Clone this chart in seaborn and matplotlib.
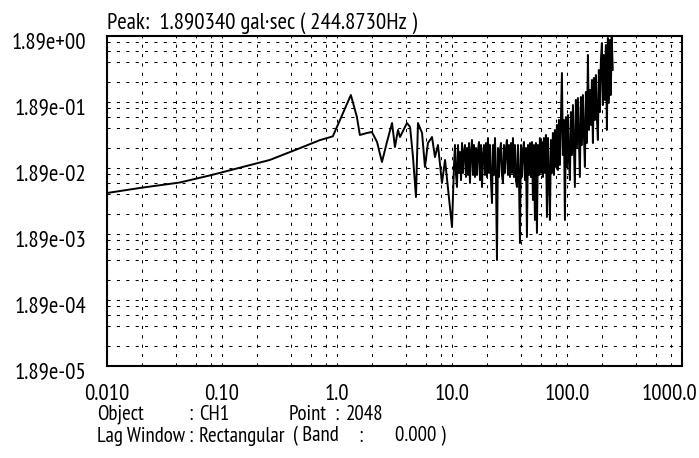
import matplotlib
matplotlib.use("Agg")
import matplotlib.pyplot as plt
import pandas as pd
import seaborn as sns
from matplotlib.ticker import FixedLocator, NullFormatter
from matplotlib.transforms import ScaledTranslation

# Smooth low-frequency part and the sparse 1-10 Hz part of the spectrum
freq_low = [0.010, 0.020, 0.043, 0.080, 0.14, 0.26, 0.48, 0.71, 0.92,
            1.32, 1.49, 1.58, 1.82, 2.01, 2.23, 2.46, 2.72, 3.01, 3.19,
            3.39, 3.53, 4.06, 4.32, 4.58, 4.86, 5.06, 5.49, 5.82, 6.18,
            6.70, 7.11, 7.55, 8.18, 8.70, 10.0]
amp_low = [0.0079, 0.0095, 0.0114, 0.0147, 0.0189, 0.025, 0.038, 0.050, 0.057,
           0.241, 0.112, 0.0598, 0.0641, 0.0664, 0.0468, 0.0233, 0.0468, 0.0908, 0.0393,
           0.0712, 0.0557, 0.0908, 0.0790, 0.0277, 0.00687, 0.0908, 0.0641, 0.0196, 0.0452,
           0.0557, 0.0277, 0.0422, 0.0112, 0.0250, 0.00241]

# Dense high-frequency band (10-250 Hz)
freq_band = [
    10.41, 10.62, 10.84, 11.05, 11.28, 11.51, 11.74, 11.98, 12.22, 12.46,
    12.71, 12.97, 13.23, 13.50, 13.77, 14.05, 14.33, 14.62, 14.92, 15.22,
    15.53, 15.84, 16.17, 16.49, 16.83, 17.17, 17.51, 17.87, 18.23, 18.59,
    18.97, 19.35, 19.75, 20.14, 20.55, 20.97, 21.39, 21.82, 22.26, 22.71,
    23.17, 23.64, 24.12, 24.60, 25.10, 25.61, 26.13, 26.65, 27.19, 27.74,
    28.30, 28.87, 29.46, 30.05, 30.66, 31.28, 31.91, 32.56, 33.21, 33.88,
    34.57, 35.27, 35.98, 36.71, 37.45, 38.21, 38.98, 39.77, 40.57, 41.39,
    42.23, 43.08, 43.96, 44.84, 45.75, 46.68, 47.62, 48.58, 49.56, 50.56,
    51.58, 52.62, 53.69, 54.77, 55.88, 57.01, 58.16, 59.34, 60.53, 61.76,
    63.01, 64.28, 65.58, 66.91, 68.26, 69.64, 71.05, 72.49, 73.95, 75.44,
    76.96, 78.52, 80.11, 81.72, 83.38, 85.06, 86.78, 88.53, 90.32, 92.14,
    94.01, 95.91, 97.85, 99.83, 101.9, 103.9, 106.0, 108.1, 110.3, 112.6,
    114.8, 117.1, 119.5, 121.9, 124.4, 126.9, 129.4, 132.1, 134.7, 137.5,
    140.3, 143.1, 146.0, 149.0, 152.0, 155.1, 158.2, 161.4, 164.7, 168.0,
    171.3, 174.8, 178.3, 181.9, 185.6, 189.3, 193.2, 197.1, 201.1, 205.1,
    209.3, 213.5, 217.9, 222.3, 226.8, 231.3, 236.0, 240.3, 244.873, 250.0,
]
amp_band = [
    0.0210, 0.0422, 0.0148, 0.00974, 0.0422, 0.0159, 0.0330, 0.0124, 0.0452, 0.0159,
    0.0330, 0.0422, 0.0138, 0.0380, 0.0148, 0.0452, 0.0112, 0.0330, 0.0502, 0.0148,
    0.0422, 0.0138, 0.0380, 0.0148, 0.0354, 0.0468, 0.0124, 0.0422, 0.00974, 0.0297,
    0.0422, 0.0148, 0.0452, 0.0138, 0.0538, 0.0159, 0.0422, 0.0124, 0.00557, 0.0422,
    0.0148, 0.0538, 0.0138, 0.000763, 0.0380, 0.0138, 0.0354, 0.0452, 0.0148, 0.0112,
    0.0422, 0.0159, 0.0380, 0.0502, 0.0148, 0.0422, 0.0138, 0.0452, 0.0159, 0.0538,
    0.0138, 0.0422, 0.0124, 0.00974, 0.0422, 0.0148, 0.00138, 0.0422, 0.0138, 0.0354,
    0.0468, 0.0124, 0.0380, 0.00170, 0.0422, 0.0148, 0.0452, 0.0138, 0.0468, 0.00619,
    0.0422, 0.00308, 0.0452, 0.00196, 0.0422, 0.0148, 0.0538, 0.0159, 0.0468, 0.0138,
    0.0538, 0.0159, 0.0598, 0.00342, 0.0538, 0.0148, 0.00308, 0.0502, 0.0159, 0.0641,
    0.0148, 0.0712, 0.0196, 0.0847, 0.0176, 0.101, 0.0210, 0.108, 0.520, 0.0297,
    0.101, 0.00308, 0.112, 0.0196, 0.120, 0.0250, 0.0124, 0.133, 0.0297, 0.170,
    0.0422, 0.00974, 0.203, 0.0380, 0.217, 0.0502, 0.0138, 0.225, 0.0422, 0.241,
    0.0598, 0.0196, 0.268, 0.0452, 0.974, 0.0712, 0.287, 0.0847, 0.407, 0.0452,
    0.437, 0.101, 0.485, 0.112, 0.0502, 0.577, 0.133, 0.818, 1.481, 0.170,
    0.974, 0.203, 1.381, 0.0712, 1.763, 0.183, 1.644, 0.241, 1.89034, 0.577,
]

x_ticks = [0.01, 0.1, 1.0, 10.0, 100.0, 1000.0]
x_tick_labels = ["0.010", "0.10", "1.0", "10.0", "100.0", "1000.0"]
y_ticks = [1.89e-5, 1.89e-4, 1.89e-3, 1.89e-2, 1.89e-1, 1.89]
y_tick_labels = ["1.89e-05", "1.89e-04", "1.89e-03", "1.89e-02", "1.89e-01", "1.89e+00"]
grid_steps = [2, 4, 6, 8]

title_text = "Peak:  1.890340 gal\u00b7sec ( 244.8730Hz )"

spectrum = pd.DataFrame({"freq": freq_low + freq_band, "amp": amp_low + amp_band})

sns.set_theme(style="white")
plt.rcParams["font.family"] = ["PT Sans Narrow", "DejaVu Sans"]
plt.rcParams["text.color"] = "black"
plt.rcParams["xtick.color"] = "black"
plt.rcParams["ytick.color"] = "black"

W, H = 699, 458
fig = plt.figure(figsize=(W / 100, H / 100), dpi=100)
fig.patch.set_facecolor("white")
ax = fig.add_axes([107 / W, 1 - 366 / H, 575 / W, 330 / H])

sns.lineplot(data=spectrum, x="freq", y="amp", ax=ax, color="black",
             linewidth=1.4, estimator=None, sort=False)

ax.set_xscale("log")
ax.set_yscale("log")
ax.set_xlim(0.01, 1000)
ax.set_ylim(1.89e-5, 1.89)
ax.set_xlabel("")
ax.set_ylabel("")

ax.xaxis.set_major_locator(FixedLocator(x_ticks))
ax.set_xticklabels(x_tick_labels)
ax.yaxis.set_major_locator(FixedLocator(y_ticks))
ax.set_yticklabels(y_tick_labels)
ax.xaxis.set_minor_locator(FixedLocator([m * d for d in x_ticks[:-1] for m in grid_steps]))
ax.yaxis.set_minor_locator(FixedLocator([m * d / 10 for d in y_ticks[1:] for m in grid_steps]))
ax.xaxis.set_minor_formatter(NullFormatter())
ax.yaxis.set_minor_formatter(NullFormatter())

ax.grid(which="both", color="black", linestyle=(0, (3, 6)), linewidth=0.75)
ax.tick_params(which="both", length=0)
fs = 16.5
ax.tick_params(axis="y", pad=15, labelsize=fs)
ax.tick_params(axis="x", pad=13, labelsize=fs)

for side in ["left", "right", "top", "bottom"]:
    ax.spines[side].set_visible(True)
    ax.spines[side].set_color("black")
    ax.spines[side].set_linewidth(1.5)

# y labels sit a little below their grid lines
for lbl in ax.get_yticklabels():
    lbl.set_transform(lbl.get_transform() + ScaledTranslation(0, -4 / 100, fig.dpi_scale_trans))

# keep the last x label inside the figure
last = ax.get_xticklabels()[-1]
last.set_horizontalalignment("right")
last.set_transform(last.get_transform() + ScaledTranslation(15 / 100, 0, fig.dpi_scale_trans))

fig.text(107 / W, 1 - 23 / H, title_text, ha="left", va="center", fontsize=fs)

# measurement conditions below the axes
fs_info = 15
row1 = 1 - 414 / H
row2 = 1 - 436 / H
fig.text(97 / W, row1, "Object", ha="left", va="center", fontsize=fs_info)
fig.text(188 / W, row1, ":", ha="left", va="center", fontsize=fs_info)
fig.text(199 / W, row1, "CH1", ha="left", va="center", fontsize=fs_info)
fig.text(289 / W, row1, "Point", ha="left", va="center", fontsize=fs_info)
fig.text(334 / W, row1, ":", ha="left", va="center", fontsize=fs_info)
fig.text(346 / W, row1, "2048", ha="left", va="center", fontsize=fs_info)
fig.text(97 / W, row2, "Lag Window", ha="left", va="center", fontsize=fs_info)
fig.text(188 / W, row2, ":", ha="left", va="center", fontsize=fs_info)
fig.text(199 / W, row2, "Rectangular", ha="left", va="center", fontsize=fs_info)
fig.text(293 / W, row2, "( Band", ha="left", va="center", fontsize=fs_info)
fig.text(358 / W, row2, ":", ha="left", va="center", fontsize=fs_info)
fig.text(395 / W, row2, "0.000 )", ha="left", va="center", fontsize=fs_info)

fig.savefig("out.png", dpi=100, facecolor="white")
